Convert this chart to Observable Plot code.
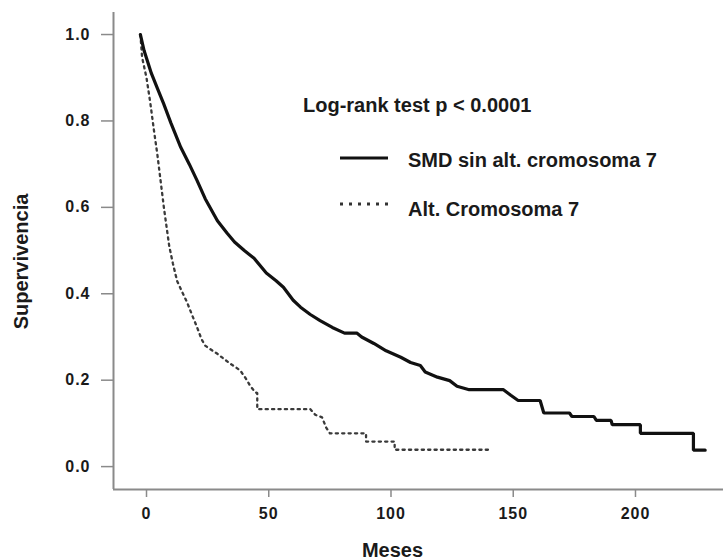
<!DOCTYPE html>
<html>
<head>
<meta charset="utf-8">
<script src="https://cdn.jsdelivr.net/npm/d3@7"></script>
<script src="https://cdn.jsdelivr.net/npm/@observablehq/plot@0.6"></script>
<style>
  html, body { margin: 0; padding: 0; background: #fff; }
  #chart { width: 723px; height: 560px; }
</style>
</head>
<body>
<div id="chart"></div>
<script>
// ---- data ----
const seriesNames = ["SMD sin alt. cromosoma 7", "Alt. Cromosoma 7"];
const testLabel = "Log-rank test p < 0.0001";
const xLabel = "Meses";
const yLabel = "Supervivencia";

const solidMonths = [-2.5, -1, 2, 4.5, 7, 10, 14, 17.5, 20.7, 24, 29, 33, 36, 40, 44, 49, 53, 56, 60, 63, 67, 71, 76, 81, 86, 88, 93, 98, 104, 108, 112, 114, 119, 124, 127, 132, 146, 149, 152, 161, 162.5, 173, 174, 183, 184, 190, 190.5, 202, 202, 223.7, 223.7, 228.5];
const solidSurvival = [1.0, 0.963, 0.91, 0.875, 0.84, 0.795, 0.739, 0.70, 0.662, 0.62, 0.569, 0.54, 0.52, 0.50, 0.482, 0.448, 0.43, 0.415, 0.385, 0.369, 0.352, 0.338, 0.322, 0.309, 0.309, 0.300, 0.285, 0.268, 0.253, 0.241, 0.234, 0.219, 0.207, 0.199, 0.186, 0.178, 0.178, 0.165, 0.153, 0.153, 0.124, 0.124, 0.116, 0.116, 0.107, 0.107, 0.097, 0.097, 0.077, 0.077, 0.038, 0.038];

const dottedMonths = [-2.5, -1.8, 0, 1.6, 3, 4.4, 5.8, 7.1, 8.2, 9.3, 10.8, 12.5, 14.5, 16.6, 18.7, 20.7, 22.5, 24, 26, 29, 31.5, 34.3, 36.5, 38.4, 40.5, 42.5, 44.5, 45.3, 45.3, 67, 69, 71.8, 73.5, 75, 89.8, 89.8, 101.5, 101.5, 140.6];
const dottedSurvival = [1.0, 0.947, 0.90, 0.84, 0.78, 0.724, 0.66, 0.60, 0.555, 0.51, 0.47, 0.43, 0.405, 0.38, 0.35, 0.322, 0.295, 0.28, 0.272, 0.261, 0.25, 0.238, 0.23, 0.222, 0.205, 0.186, 0.172, 0.17, 0.133, 0.133, 0.12, 0.114, 0.09, 0.077, 0.077, 0.058, 0.058, 0.039, 0.039];

const xTicks = [0, 50, 100, 150, 200];
const yTicks = [0.0, 0.2, 0.4, 0.6, 0.8, 1.0];
const xDomain = [-13.5, 236];
const yDomain = [-0.053, 1.051];

// ---- build tables ----
const solid = solidMonths.map((m, i) => ({month: m, surv: solidSurvival[i], serie: seriesNames[0]}));
const dotted = dottedMonths.map((m, i) => ({month: m, surv: dottedSurvival[i], serie: seriesNames[1]}));

const FONT = "'Liberation Sans', Arial, Helvetica, sans-serif";
const AXIS_GRAY = "#8a8a8a";
const TEXT = "#1a1a1a";

// legend + axis titles drawn in pixel (layout) space
function annotations(index, scales, values, dims) {
  const g = d3.create("svg:g").attr("font-family", FONT).attr("font-weight", "bold")
    .attr("fill", TEXT).attr("text-anchor", "start");
  g.append("text").attr("x", 303).attr("y", 112).attr("font-size", 20).attr("text-anchor", "start").text(testLabel);
  // solid swatch
  g.append("line").attr("x1", 340).attr("x2", 388).attr("y1", 158).attr("y2", 158)
    .attr("stroke", "#111").attr("stroke-width", 3.2);
  g.append("text").attr("x", 408).attr("y", 167).attr("font-size", 20).attr("text-anchor", "start").text(seriesNames[0]);
  // dotted swatch
  g.append("line").attr("x1", 340).attr("x2", 388).attr("y1", 204).attr("y2", 204)
    .attr("stroke", "#333").attr("stroke-width", 3).attr("stroke-dasharray", "3,6");
  g.append("text").attr("x", 408).attr("y", 216).attr("font-size", 20).attr("text-anchor", "start").text(seriesNames[1]);
  // axis titles
  g.append("text").attr("x", 392.5).attr("y", 557).attr("font-size", 20)
    .attr("text-anchor", "middle").text(xLabel);
  g.append("text").attr("transform", "translate(28,261.5) rotate(-90)").attr("font-size", 20)
    .attr("text-anchor", "middle").text(yLabel);
  return g.node();
}

const chart = Plot.plot({
  width: 723,
  height: 560,
  marginLeft: 113,
  marginRight: 0,
  marginTop: 12,
  marginBottom: 71,
  style: {fontFamily: FONT, background: "#fff", color: TEXT, overflow: "visible"},
  x: {domain: xDomain},
  y: {domain: yDomain},
  marks: [
    Plot.ruleX([xDomain[0]], {stroke: AXIS_GRAY, strokeWidth: 2}),
    Plot.ruleY([yDomain[0]], {stroke: AXIS_GRAY, strokeWidth: 2}),
    Plot.axisY({ticks: yTicks, tickFormat: d3.format(".1f"), tickSize: 12, tickPadding: 11,
      fontSize: 16, fontWeight: "bold", label: null}),
    Plot.axisX({ticks: xTicks, tickFormat: d3.format("d"), tickSize: 8, tickPadding: 10,
      fontSize: 16, fontWeight: "bold", label: null}),
    Plot.line(dotted, {x: "month", y: "surv", stroke: "#3a3a3a", strokeWidth: 2.3,
      strokeDasharray: "2.2,4.2"}),
    Plot.line(solid, {x: "month", y: "surv", stroke: "#111", strokeWidth: 3.2, strokeLinejoin: "miter"}),
    annotations
  ]
});

const svg = d3.select(chart);
svg.selectAll("g[aria-label='x-axis tick'] path, g[aria-label='y-axis tick'] path")
  .attr("stroke", AXIS_GRAY).attr("stroke-width", 1.5);
svg.selectAll("g[aria-label='x-axis tick'], g[aria-label='y-axis tick']")
  .attr("stroke", AXIS_GRAY);
svg.selectAll("g[aria-label='x-axis tick label'] text, g[aria-label='y-axis tick label'] text")
  .attr("letter-spacing", "1px").attr("font-weight", "bold");
svg.selectAll("g[aria-label='x-axis tick label'], g[aria-label='y-axis tick label']")
  .attr("font-weight", "bold").attr("fill", TEXT);

document.getElementById("chart").appendChild(chart);
</script>
</body>
</html>
